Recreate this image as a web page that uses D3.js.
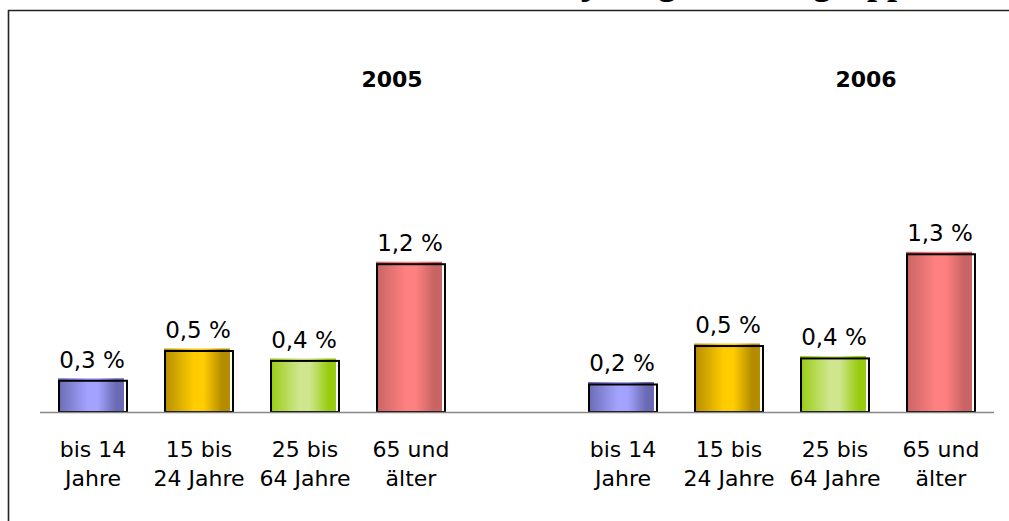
<!DOCTYPE html>
<html>
<head>
<meta charset="utf-8">
<script src="https://cdn.jsdelivr.net/npm/d3@7"></script>
<style>
  html, body { margin: 0; padding: 0; background: #fff; }
  svg { display: block; }
</style>
</head>
<body>
<svg id="chart" width="1009" height="521"></svg>
<script>
// ---- data ----
const years = ["2005", "2006"];
const categories = ["bis 14 Jahre", "15 bis 24 Jahre", "25 bis 64 Jahre", "65 und älter"];
const categoryLines = [["bis 14", "Jahre"], ["15 bis", "24 Jahre"], ["25 bis", "64 Jahre"], ["65 und", "älter"]];
const values2005 = [0.26, 0.50, 0.42, 1.20];
const values2006 = [0.23, 0.54, 0.44, 1.28];
const titleText = "jährigen Altersgruppen";

// ---- styles ----
const palette = [
  { dark: "#6a6ab4", light: "#a3a3ff" },
  { dark: "#b48c00", light: "#ffcc00" },
  { dark: "#99cc11", light: "#cfe68e" },
  { dark: "#c86464", light: "#ff8080" }
];
const yearTitleX = { "2005": 392, "2006": 866 };

const svg = d3.select("#chart");
const W = 1009, H = 521;
const baseY = 412;

// frame
svg.append("path")
  .attr("d", `M${W},10.5 H8.5 V${H}`)
  .attr("fill", "none").attr("stroke", "#222").attr("stroke-width", 1.6);

// partially visible title (only descenders show at the top edge)
svg.append("text")
  .attr("x", 582).attr("y", -6)
  .attr("font-family", "'Liberation Serif', 'Times New Roman', serif")
  .attr("font-weight", "bold").attr("font-size", 36)
  .attr("fill", "#000")
  .text(titleText);

// gradients
const defs = svg.append("defs");
palette.forEach((p, i) => {
  const g = defs.append("linearGradient").attr("id", "grad" + i)
    .attr("x1", "0%").attr("x2", "100%").attr("y1", "0%").attr("y2", "0%");
  [[0, p.dark], [0.45, p.light], [0.6, p.light], [0.88, p.dark], [1, p.dark]].forEach(s =>
    g.append("stop").attr("offset", s[0]).attr("stop-color", s[1]));
});

// scales
const x0 = d3.scaleBand().domain(years).range([40, 994]).paddingInner(0.2).paddingOuter(0);
const x1 = d3.scaleBand().domain(categories).range([0, x0.bandwidth()]).paddingInner(0.34).paddingOuter(0.17);
const y = d3.scaleLinear().domain([0, 1.5]).range([baseY, baseY - 186]);

const series = { "2005": values2005, "2006": values2006 };
const fmt = v => d3.format(".1f")(v).replace(".", ",") + " %";
const bw = x1.bandwidth();

years.forEach(yr => {
  const g = svg.append("g").attr("transform", `translate(${x0(yr)},0)`);
  const data = categories.map((c, i) => ({ c, i, v: series[yr][i] }));

  const bars = g.selectAll("g.bar").data(data).join("g").attr("class", "bar");
  bars.append("rect")
    .attr("x", d => x1(d.c))
    .attr("y", d => y(d.v) - 1.5)
    .attr("width", bw - 4)
    .attr("height", d => baseY - y(d.v) + 1.5)
    .attr("fill", d => `url(#grad${d.i})`);
  bars.append("rect")
    .attr("x", d => x1(d.c) + 1)
    .attr("y", d => y(d.v) + 1)
    .attr("width", bw - 2)
    .attr("height", d => baseY - y(d.v) - 1)
    .attr("fill", "none").attr("stroke", "#000").attr("stroke-width", 2);

  // value labels
  g.selectAll("text.val").data(data).join("text").attr("class", "val")
    .attr("x", d => x1(d.c) + bw / 2 - 1)
    .attr("y", d => y(d.v) - 12)
    .attr("text-anchor", "middle")
    .attr("font-family", "'DejaVu Sans', Verdana, sans-serif")
    .attr("font-size", 23).attr("fill", "#000")
    .text(d => fmt(d.v));

  // category labels
  const cl = g.selectAll("text.cat").data(data).join("text").attr("class", "cat")
    .attr("text-anchor", "middle")
    .attr("font-family", "'DejaVu Sans', Verdana, sans-serif")
    .attr("font-size", 22).attr("fill", "#000");
  cl.selectAll("tspan").data(d => categoryLines[d.i].map(t => ({ t, x: x1(d.c) + bw / 2 })))
    .join("tspan")
    .attr("x", t => t.x)
    .attr("y", (t, j) => 457 + j * 29)
    .text(t => t.t);

  // year title
  svg.append("text")
    .attr("x", yearTitleX[yr]).attr("y", 87)
    .attr("text-anchor", "middle")
    .attr("font-family", "'DejaVu Sans', Verdana, sans-serif")
    .attr("font-weight", "bold").attr("font-size", 22).attr("fill", "#000")
    .text(yr);
});

// baseline
svg.append("line")
  .attr("x1", 40).attr("x2", 994).attr("y1", baseY + 0.5).attr("y2", baseY + 0.5)
  .attr("stroke", "#888").attr("stroke-width", 1.5);
</script>
</body>
</html>
